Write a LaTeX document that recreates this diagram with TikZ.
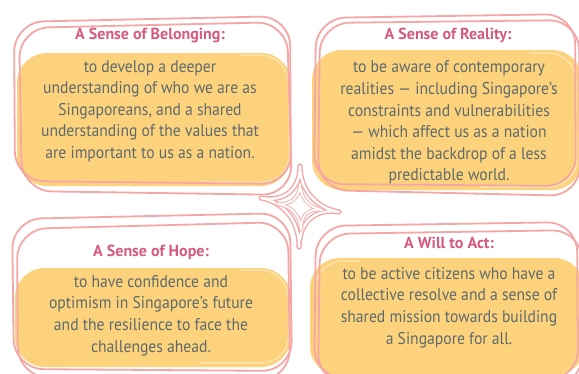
\documentclass[tikz,border=0pt]{standalone}
\usepackage{fontspec}
\setmainfont{PT Sans}
\newfontfamily\bodyfont[FakeStretch=0.92,Ligatures=TeX]{PT Sans}
\usetikzlibrary{calc}
\definecolor{pinkline}{HTML}{F4A7A6}
\definecolor{yel}{HTML}{FDD27C}
\definecolor{hlcol}{HTML}{FDE7B5}
\definecolor{ttl}{HTML}{D65A7C}
\definecolor{txt}{HTML}{5E6A6B}
\newcommand\mystar[6]{%
\draw[#1] (#3) .. controls ($(#3)!0.6!(#2)$) and ($(#4)!0.6!(#2)$) .. (#4)
 .. controls ($(#4)!0.6!(#2)$) and ($(#5)!0.6!(#2)$) .. (#5)
 .. controls ($(#5)!0.6!(#2)$) and ($(#6)!0.6!(#2)$) .. (#6)
 .. controls ($(#6)!0.6!(#2)$) and ($(#3)!0.6!(#2)$) .. (#3) -- cycle;}
\begin{document}
\begin{tikzpicture}[x=1pt,y=-1pt,
 blob/.style={fill=yel, rounded corners=30},
 hl/.style={draw=hlcol, line width=1.2pt, rounded corners=28},
 outl/.style={draw=pinkline, line width=1.8pt, rounded corners=30},
 ttlnode/.style={text=ttl, inner sep=0pt, font=\bfseries\fontsize{16}{18}\selectfont},
 body/.style={text=txt, align=center, inner sep=0pt, font=\bodyfont\fontsize{17}{21.6}\selectfont},
 starline/.style={draw=pinkline, line width=1.4pt, double=white, double distance=2.4pt, line join=round},
 starinner/.style={draw=pinkline!85, line width=1pt, double=white, double distance=1.8pt, line join=round}]
\useasboundingbox (0,0) rectangle (579,373);
\fill[white] (0,0) rectangle (579,373);
% yellow blobs
\fill[blob] (17,53) rectangle (291,186);
\fill[blob] (312,50) rectangle (582,190);
\fill[blob] (15,268) rectangle (291,367);
\fill[blob] (310,258) rectangle (584,376);
% highlights
\draw[hl] (240,55) -- (288,55) -- (290,182) -- (200,182);
\draw[hl] (530,53) -- (576,53) -- (577,187) -- (480,187);
\draw[hl] (240,270) -- (288,270) -- (289,363) -- (200,363);
\draw[hl] (315,300) -- (315,261) -- (360,261);
% outlines top-left
\draw[outl] (14,22) -- (290,16) -- (291,184) -- (15,181) -- cycle;
\draw[outl] (19,28) -- (287,22) -- (292,195) -- (22,191) -- cycle;
% top-right
\draw[outl] (316,18) -- (575,14) -- (576,186) -- (314,184) -- cycle;
\draw[outl] (320,23) -- (579,20) -- (580,196) -- (318,190) -- cycle;
% bottom-left
\draw[outl] (12,219) -- (290,213) -- (292,371) -- (14,369) -- cycle;
\draw[outl] (17,229) -- (288,222) -- (290,380) -- (18,377) -- cycle;
% bottom-right
\draw[outl] (316,226) -- (577,222) -- (578,380) -- (314,378) -- cycle;
\draw[outl] (320,234) -- (582,230) -- (582,386) -- (318,384) -- cycle;
% centre star
\coordinate (oC) at (300,205);
\coordinate (oT) at (300,166);
\coordinate (oR) at (339,212);
\coordinate (oB) at (299,247);
\coordinate (oL) at (261,198);
\coordinate (iC) at (300,206);
\coordinate (iT) at (300,184);
\coordinate (iR) at (322,210);
\coordinate (iB) at (301,230);
\coordinate (iL) at (277,204);
\mystar{starline}{oC}{oT}{oR}{oB}{oL}
\mystar{starinner}{iC}{iT}{iR}{iB}{iL}
% titles
\node[ttlnode] (t1) at (150,35) {A Sense of Belonging:};
\node[ttlnode] (t2) at (448,35) {A Sense of Reality:};
\node[ttlnode] (t3) at (151,252) {A Sense of Hope:};
\node[ttlnode] (t4) at (449,243) {A Will to Act:};
% bodies
\node[body] (b1) at (150,111) {to develop a deeper\\understanding of who we are as\\Singaporeans, and a shared\\understanding of the values that\\are important to us as a nation.};
\node[body] (b2) at (449,122.5) {to be aware of contemporary\\realities — including Singapore’s\\constraints and vulnerabilities\\— which affect us as a nation\\amidst the backdrop of a less\\predictable world.};
\node[body] (b3) at (151,315.5) {to have confidence and\\optimism in Singapore’s future\\and the resilience to face the\\challenges ahead.};
\node[body] (b4) at (449,307.5) {to be active citizens who have a\\collective resolve and a sense of\\shared mission towards building\\a Singapore for all.};
\end{tikzpicture}
\end{document}
